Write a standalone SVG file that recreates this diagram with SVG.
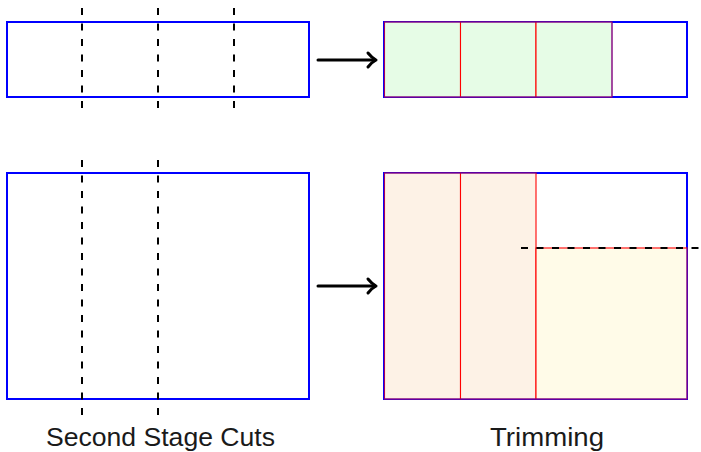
<svg xmlns="http://www.w3.org/2000/svg" width="701" height="452" viewBox="0 0 701 452">
  <style>
    .sheet { fill: none; stroke: #0000ff; stroke-width: 2; }
    .rim { fill: none; stroke: #0000ff; stroke-width: 2; stroke-opacity: 0.35; }
    .piece { stroke: #ff0000; stroke-width: 1.1; }
    .green { fill: #e6fce6; }
    .orange { fill: #fdf2e6; }
    .yellow { fill: #fffbe8; }
    .cut { stroke: #000; stroke-width: 2; stroke-dasharray: 7 8.5; fill: none; }
    .arrow { stroke: #000; stroke-width: 3; fill: none; stroke-linecap: round; stroke-linejoin: round; }
    .label { font-family: "Liberation Sans", "DejaVu Sans", sans-serif; font-size: 26px; fill: #1a1a1a; text-anchor: middle; }
  </style>

  <!-- stock strip with first-stage cuts -->
  <g id="strip-cuts">
    <rect class="sheet" x="7" y="22" width="302" height="75"/>
    <line class="cut" x1="82" y1="8" x2="82" y2="112"/>
    <line class="cut" x1="158" y1="8" x2="158" y2="112"/>
    <line class="cut" x1="234" y1="8" x2="234" y2="112"/>
  </g>

  <!-- strip after cutting -->
  <g id="strip-result">
    <rect class="sheet" x="384" y="22" width="303" height="75"/>
    <rect class="piece green" x="384.5" y="22" width="76" height="75"/>
    <rect class="piece green" x="460.5" y="22" width="75.5" height="75"/>
    <rect class="piece green" x="536" y="22" width="76" height="75"/>
    <rect class="rim" x="384" y="22" width="228" height="75"/>
  </g>

  <!-- large sheet with second-stage cuts -->
  <g id="sheet-cuts">
    <rect class="sheet" x="7" y="173" width="302" height="226"/>
    <line class="cut" x1="82" y1="415" x2="82" y2="157"/>
    <line class="cut" x1="158" y1="415" x2="158" y2="157"/>
  </g>

  <!-- large sheet after cutting and trimming -->
  <g id="sheet-result">
    <rect class="sheet" x="384" y="173" width="303" height="226"/>
    <rect class="piece orange" x="384.5" y="173" width="76" height="226"/>
    <rect class="piece orange" x="460.5" y="173" width="75.5" height="226"/>
    <rect class="piece yellow" x="536" y="248" width="151" height="151"/>
    <path class="rim" d="M536 173 H384 V399 H687 V248"/>
    <line class="cut" x1="521" y1="248" x2="703" y2="248"/>
  </g>

  <!-- arrows -->
  <g id="connectors">
    <line class="arrow" x1="318" y1="60" x2="375" y2="60"/>
    <path class="arrow" d="M368 53 Q372 58 376 60 Q372 62 368 67"/>
    <line class="arrow" x1="318" y1="286" x2="375" y2="286"/>
    <path class="arrow" d="M368 279 Q372 284 376 286 Q372 288 368 293"/>
  </g>

  <g id="captions">
    <text class="label" x="160.5" y="446" textLength="229" lengthAdjust="spacingAndGlyphs">Second Stage Cuts</text>
    <text class="label" x="547" y="446" textLength="114" lengthAdjust="spacingAndGlyphs">Trimming</text>
  </g>
</svg>
